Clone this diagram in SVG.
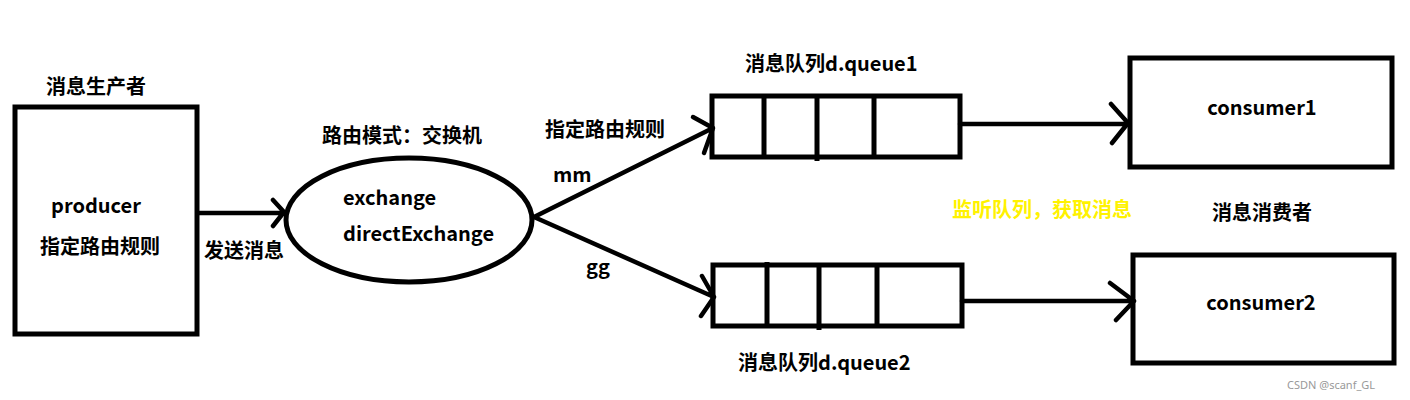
<svg xmlns="http://www.w3.org/2000/svg" width="1410" height="400" viewBox="0 0 1410 400">
<style>
.box{fill:none;stroke:#000;stroke-width:5}
.ln{fill:none;stroke:#000;stroke-width:4.5;stroke-linecap:round;stroke-linejoin:round}
.t{font-family:"Noto Sans CJK SC","Noto Sans",sans-serif;font-weight:bold;font-size:20px;fill:#000}
.y{fill:#FFF200}
.wm{font-family:"Noto Sans","Noto Sans CJK SC",sans-serif;font-size:11px;fill:#999}
</style>
<rect width="1410" height="400" fill="#fff"/>
<g id="producer">
<rect class="box" x="15" y="107" width="182" height="227"/>
<text class="t" x="46" y="94">消息生产者</text>
<text class="t" x="96" y="213" text-anchor="middle">producer</text>
<text class="t" x="40" y="254">指定路由规则</text>
</g>
<g id="exchange">
<ellipse class="box" cx="409" cy="220" rx="123" ry="62"/>
<text class="t" x="322" y="143">路由模式：交换机</text>
<text class="t" x="343" y="205">exchange</text>
<text class="t" x="343" y="241">directExchange</text>
</g>
<g id="queue1">
<rect class="box" x="712" y="96" width="248" height="61"/>
<path class="box" d="M764,94V159M817,94V161M874,96V157"/>
<text class="t" x="745" y="71">消息队列d.queue1</text>
</g>
<g id="queue2">
<rect class="box" x="713" y="265" width="249" height="61"/>
<path class="box" d="M767,262V328M819,265V330M877,265V326"/>
<text class="t" x="738" y="370">消息队列d.queue2</text>
</g>
<g id="consumer1">
<rect class="box" x="1130" y="58" width="262" height="109"/>
<text class="t" x="1262" y="115" text-anchor="middle">consumer1</text>
</g>
<g id="consumer2">
<rect class="box" x="1133" y="255" width="261" height="108"/>
<text class="t" x="1261" y="310" text-anchor="middle">consumer2</text>
<text class="t" x="1262" y="220" text-anchor="middle">消息消费者</text>
</g>
<g id="connectors">
<path class="ln" d="M199,213H283M273,200L284,212L273,226"/>
<text class="t" x="204" y="258">发送消息</text>
<path class="ln" d="M534,217L713,128M693,117L713,128L704,153"/>
<text class="t" x="545" y="137">指定路由规则</text>
<text class="t" x="553" y="182">mm</text>
<path class="ln" d="M534,217L714,297M702,276L714,297L701,316"/>
<text class="t" x="586" y="274">gg</text>
<path class="ln" d="M960,124H1128M1111,104L1128,123L1112,143"/>
<path class="ln" d="M962,301H1134M1110,283L1134,301L1116,320"/>
<text class="t y" x="952" y="217">监听队列，获取消息</text>
</g>
<text class="wm" x="1287" y="389">CSDN @scanf_GL</text>
</svg>
